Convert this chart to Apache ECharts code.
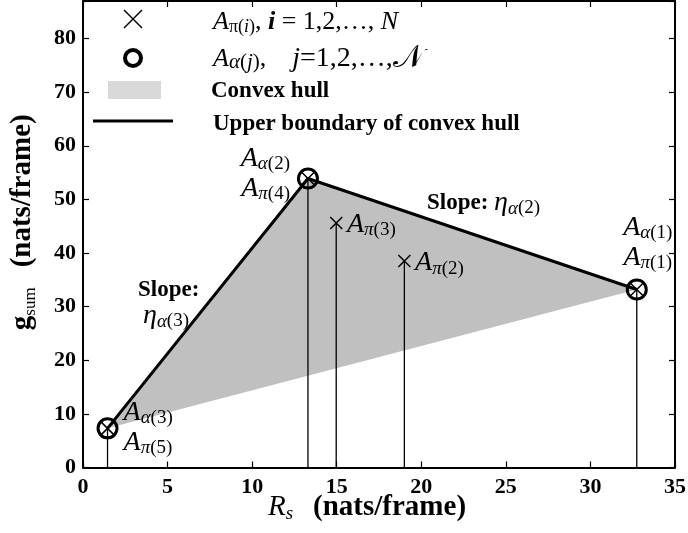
<!DOCTYPE html>
<html>
<head>
<meta charset="utf-8">
<script src="https://cdn.jsdelivr.net/npm/echarts@6/dist/echarts.min.js"></script>
<style>
  html, body { margin: 0; padding: 0; background: #fff; }
  #chart { width: 688px; height: 533px; }
</style>
</head>
<body>
<div id="chart"></div>
<script>
const SERIF = '"Liberation Serif", "DejaVu Serif", serif';

// Operating points A_π(i), i = 1..5 : rate R_s and sum gain g_sum (nats/frame)
const piRate = [32.74, 19.0, 14.97, 13.3, 1.45];
const piGain = [33.2, 38.5, 45.6, 53.9, 7.3];
const piIndex = ['1', '2', '3', '4', '5'];

// Vertices of the upper boundary A_α(j), j = 1..3, given as indices into the π list
const alphaIndex = ['1', '2', '3'];
const alphaOfPi = [0, 3, 4];

// Axis ranges and tick steps
const xRange = [0, 35], xStep = 5;
const yRange = [0, 87], yStep = 10;

const alphaRate = alphaOfPi.map(i => piRate[i]);
const alphaGain = alphaOfPi.map(i => piGain[i]);

// Rich text styles for A_π(i), A_α(j), η with subscripts
const mathRich = {
  A:  { fontFamily: SERIF, fontStyle: 'italic', fontSize: 28, lineHeight: 30, color: '#000' },
  sg: { fontFamily: SERIF, fontStyle: 'italic', fontSize: 19, lineHeight: 12, verticalAlign: 'bottom', color: '#000' },
  sp: { fontFamily: SERIF, fontSize: 19, lineHeight: 12, verticalAlign: 'bottom', color: '#000' }
};
const aSub = (greek, idx) => `{A|A}{sg|${greek}}{sp|(${idx})}`;
const labelBase = { color: '#000', textBorderWidth: 0, rich: mathRich };

// Label placement for each point
const piLabel = {
  1: { show: true, position: 'right', distance: 4, offset: [0, 2], formatter: aSub('π', piIndex[1]) },
  2: { show: true, position: 'right', distance: 4, offset: [0, 2], formatter: aSub('π', piIndex[2]) }
};
const alphaLabel = [
  { show: true, position: 'top', distance: 6, offset: [11, 0],
    formatter: aSub('α', alphaIndex[0]) + '\n' + aSub('π', piIndex[0]) },
  { show: true, position: 'left', distance: 7, offset: [0, -5],
    formatter: aSub('α', alphaIndex[1]) + '\n' + aSub('π', piIndex[3]) },
  { show: true, position: 'right', distance: 5, offset: [0, -1],
    formatter: aSub('α', alphaIndex[2]) + '\n' + aSub('π', piIndex[4]) }
];

const crossPath = 'path://M0,0L10,10M10,0L0,10';

const chart = echarts.init(document.getElementById('chart'), null, { renderer: 'canvas' });

const axisLineStyle = { show: true, onZero: false, lineStyle: { color: '#000', width: 2 } };
const axisTickStyle = { show: true, inside: true, length: 6, lineStyle: { color: '#000', width: 1.2 } };
const tickLabel = { fontFamily: SERIF, fontWeight: 'bold', fontSize: 22, color: '#000' };

const legendRich = {
  A:  { fontFamily: SERIF, fontStyle: 'italic', fontSize: 26, lineHeight: 28, fill: '#000' },
  s:  { fontFamily: SERIF, fontSize: 18, lineHeight: 12, verticalAlign: 'bottom', fill: '#000' },
  sg: { fontFamily: SERIF, fontStyle: 'italic', fontSize: 21, lineHeight: 12, verticalAlign: 'bottom', fill: '#000' },
  s2: { fontFamily: SERIF, fontSize: 21, lineHeight: 12, verticalAlign: 'bottom', fill: '#000' },
  si: { fontFamily: SERIF, fontStyle: 'italic', fontSize: 18, lineHeight: 12, verticalAlign: 'bottom', fill: '#000' },
  sj: { fontFamily: SERIF, fontStyle: 'italic', fontSize: 21, lineHeight: 12, verticalAlign: 'bottom', fill: '#000' },
  t:  { fontFamily: SERIF, fontSize: 26, lineHeight: 28, fill: '#000' },
  t2: { fontFamily: SERIF, fontSize: 28, lineHeight: 28, fill: '#000' },
  bi: { fontFamily: SERIF, fontStyle: 'italic', fontWeight: 'bold', fontSize: 26, lineHeight: 28, fill: '#000' },
  it: { fontFamily: SERIF, fontStyle: 'italic', fontSize: 26, lineHeight: 28, fill: '#000' },
  it2: { fontFamily: SERIF, fontStyle: 'italic', fontSize: 28, lineHeight: 28, fill: '#000' },
  cal: { fontFamily: SERIF, fontSize: 32, lineHeight: 28, fill: '#000' }
};
const slopeRich = {
  b:  { fontFamily: SERIF, fontWeight: 'bold', fontSize: 23, lineHeight: 30, fill: '#000' },
  e:  { fontFamily: SERIF, fontStyle: 'italic', fontSize: 28, lineHeight: 30, fill: '#000' },
  sg: { fontFamily: SERIF, fontStyle: 'italic', fontSize: 19, lineHeight: 12, verticalAlign: 'bottom', fill: '#000' },
  sp: { fontFamily: SERIF, fontSize: 19, lineHeight: 12, verticalAlign: 'bottom', fill: '#000' }
};

chart.setOption({
  animation: false,
  backgroundColor: '#fff',
  grid: { left: 83, right: 13, top: 1, bottom: 65.5, containLabel: false, outerBoundsMode: 'none' },
  xAxis: [
    {
      type: 'value', position: 'bottom', min: xRange[0], max: xRange[1], interval: xStep,
      axisLine: axisLineStyle, axisTick: axisTickStyle, splitLine: { show: false },
      axisLabel: Object.assign({ margin: 9 }, tickLabel),
      name: '{R|R}{s|s}{g|    }{b|(nats/frame)}',
      nameLocation: 'middle', nameGap: 24, nameMoveOverlap: false,
      nameTextStyle: {
        padding: [0, 24, 0, 0],
        rich: {
          R: { fontFamily: SERIF, fontStyle: 'italic', fontSize: 29, lineHeight: 32, color: '#000' },
          s: { fontFamily: SERIF, fontStyle: 'italic', fontSize: 19, lineHeight: 14, verticalAlign: 'bottom', color: '#000' },
          g: { fontFamily: SERIF, fontSize: 20, color: '#000' },
          b: { fontFamily: SERIF, fontWeight: 'bold', fontSize: 29, lineHeight: 32, color: '#000' }
        }
      }
    },
    {
      type: 'value', position: 'top', min: xRange[0], max: xRange[1], interval: xStep,
      axisLine: axisLineStyle, axisTick: axisTickStyle, splitLine: { show: false },
      axisLabel: { show: false }
    }
  ],
  yAxis: [
    {
      type: 'value', position: 'left', min: yRange[0], max: yRange[1], interval: yStep,
      axisLine: axisLineStyle, axisTick: axisTickStyle, splitLine: { show: false },
      axisLabel: Object.assign({
        margin: 7,
        formatter: v => (v % yStep === 0 ? String(v) : '')
      }, tickLabel),
      name: '{g|g}{s|sum}{sp|    }{b|(nats/frame)}',
      nameLocation: 'middle', nameGap: 44, nameRotate: 90, nameMoveOverlap: false,
      nameTextStyle: {
        padding: [0, 0, 0, 24],
        rich: {
          g: { fontFamily: SERIF, fontWeight: 'bold', fontSize: 29, lineHeight: 32, color: '#000' },
          s: { fontFamily: SERIF, fontSize: 17, lineHeight: 12, verticalAlign: 'bottom', color: '#000' },
          sp: { fontFamily: SERIF, fontSize: 20, color: '#000' },
          b: { fontFamily: SERIF, fontWeight: 'bold', fontSize: 29, lineHeight: 32, color: '#000' }
        }
      }
    },
    {
      type: 'value', position: 'right', min: yRange[0], max: yRange[1], interval: yStep,
      axisLine: axisLineStyle, axisTick: axisTickStyle, splitLine: { show: false },
      axisLabel: { show: false }
    }
  ],
  graphic: [
    // Legend
    { type: 'line', silent: true, shape: { x1: 124, y1: 10, x2: 142, y2: 28 },
      style: { stroke: '#000', lineWidth: 1.4 } },
    { type: 'line', silent: true, shape: { x1: 142, y1: 10, x2: 124, y2: 28 },
      style: { stroke: '#000', lineWidth: 1.4 } },
    { type: 'circle', silent: true, shape: { cx: 133, cy: 58, r: 8 },
      style: { stroke: '#000', lineWidth: 4, fill: 'rgba(0,0,0,0)' } },
    { type: 'rect', silent: true, shape: { x: 108, y: 81, width: 53, height: 18 },
      style: { fill: '#d9d9d9' } },
    { type: 'line', silent: true, shape: { x1: 93, y1: 121, x2: 173, y2: 121 },
      style: { stroke: '#000', lineWidth: 3 } },
    { type: 'text', silent: true, x: 213, y: 22, style: {
        text: '{A|A}{s|π(}{si|i}{s|)}{t|, }{bi|i}{t| = 1,2,…, }{it|N}',
        verticalAlign: 'middle', align: 'left', rich: legendRich } },
    { type: 'text', silent: true, x: 213, y: 59, style: {
        text: '{A|A}{sg|α}{s2|(}{sj|j}{s2|)}{t|,    }{it2|j}{t2|=1,2,…,}{cal|𝒩}',
        verticalAlign: 'middle', align: 'left', rich: legendRich } },
    { type: 'text', silent: true, x: 211, y: 91, style: {
        text: 'Convex hull', verticalAlign: 'middle', align: 'left',
        font: 'bold 23px ' + SERIF, fill: '#000' } },
    { type: 'text', silent: true, x: 213, y: 124, style: {
        text: 'Upper boundary of convex hull', verticalAlign: 'middle', align: 'left',
        font: 'bold 23px ' + SERIF, fill: '#000' } },
    // Slope annotations on the boundary segments
    { type: 'text', silent: true, x: 427, y: 203, style: {
        text: '{b|Slope: }{e|η}{sg|α}{sp|(2)}', verticalAlign: 'middle', align: 'left',
        rich: slopeRich } },
    { type: 'text', silent: true, x: 138, y: 290, style: {
        text: 'Slope:', verticalAlign: 'middle', align: 'left',
        font: 'bold 23px ' + SERIF, fill: '#000' } },
    { type: 'text', silent: true, x: 143, y: 316, style: {
        text: '{e|η}{sg|α}{sp|(3)}', verticalAlign: 'middle', align: 'left',
        rich: slopeRich } }
  ],
  series: [
    // Convex hull of all points (its vertices are the α points)
    {
      type: 'custom', name: 'Convex hull', silent: true, z: 1,
      renderItem: (params, api) => ({
        type: 'polygon',
        shape: { points: alphaRate.map((x, k) => api.coord([x, alphaGain[k]])) },
        style: { fill: '#c0c0c0' }
      }),
      data: [[alphaRate[0], alphaGain[0]]]
    },
    // Vertical stems from every point down to the R_s axis
    {
      type: 'custom', name: 'stems', silent: true, z: 2,
      renderItem: (params, api) => {
        const top = api.coord([api.value(0), api.value(1)]);
        const base = api.coord([api.value(0), 0]);
        return { type: 'line', shape: { x1: top[0], y1: top[1], x2: base[0], y2: base[1] },
                 style: { stroke: '#000', lineWidth: 1.3 } };
      },
      data: piRate.map((x, i) => [x, piGain[i]])
    },
    // Upper boundary of the convex hull
    {
      type: 'line', name: 'Upper boundary of convex hull', z: 3,
      symbol: 'none', silent: true,
      lineStyle: { color: '#000', width: 3 },
      data: alphaRate.map((x, k) => [x, alphaGain[k]]).sort((a, b) => a[0] - b[0])
    },
    // A_π(i) markers
    {
      type: 'scatter', name: 'A_pi', z: 4, silent: true,
      symbol: crossPath, symbolSize: 12,
      itemStyle: { color: 'rgba(0,0,0,0)', borderColor: '#000', borderWidth: 1.5, opacity: 1 },
      data: piRate.map((x, i) => ({
        value: [x, piGain[i]],
        label: piLabel[i] ? Object.assign({}, labelBase, piLabel[i]) : { show: false }
      }))
    },
    // A_α(j) markers
    {
      type: 'scatter', name: 'A_alpha', z: 5, silent: true,
      symbol: 'circle', symbolSize: 19,
      itemStyle: { color: 'rgba(0,0,0,0)', borderColor: '#000', borderWidth: 3, opacity: 1 },
      data: alphaRate.map((x, k) => ({
        value: [x, alphaGain[k]],
        label: Object.assign({}, labelBase, alphaLabel[k])
      }))
    }
  ]
});
</script>
</body>
</html>
